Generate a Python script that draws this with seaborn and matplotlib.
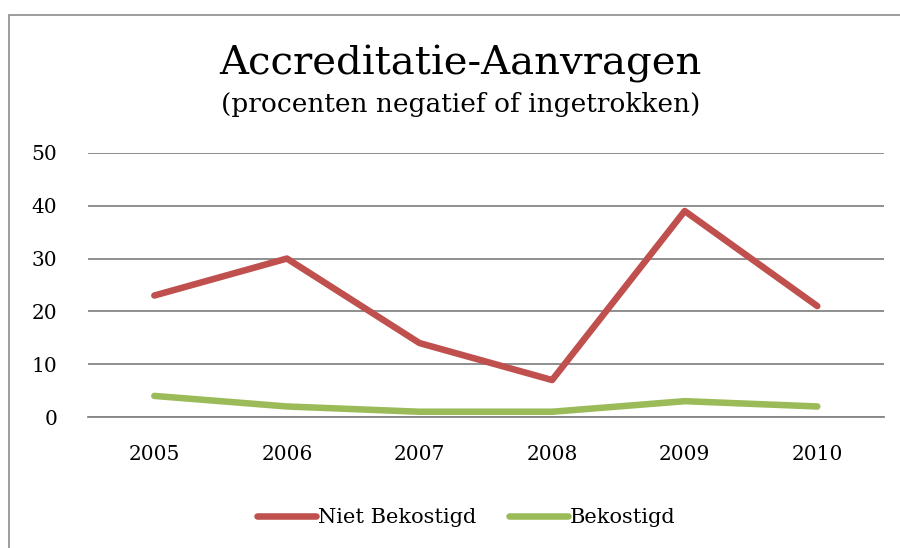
import matplotlib
matplotlib.use('Agg')
import matplotlib.pyplot as plt
import pandas as pd
import seaborn as sns
from matplotlib.patches import Rectangle

years = [2005, 2006, 2007, 2008, 2009, 2010]
niet_bekostigd = [23, 30, 14, 7, 39, 21]
bekostigd = [4, 2, 1, 1, 3, 2]
series_names = ['Niet Bekostigd', 'Bekostigd']
colors = ['#C0504D', '#9BBB59']

df = pd.DataFrame({
    'jaar': years * 2,
    'waarde': niet_bekostigd + bekostigd,
    'reeks': [series_names[0]] * len(years) + [series_names[1]] * len(years),
})

sns.set_style('white')
plt.rcParams['font.family'] = ['DejaVu Serif']
plt.rcParams['text.color'] = 'black'
plt.rcParams['xtick.color'] = 'black'
plt.rcParams['ytick.color'] = 'black'

fig = plt.figure(figsize=(9, 5.48), dpi=100)
ax = fig.add_axes([0.0978, 0.239, 0.884, 0.482])

sns.lineplot(data=df, x='jaar', y='waarde', hue='reeks', palette=colors,
             linewidth=4.7, ax=ax, legend=False, solid_capstyle='round')

ax.set_xlim(years[0] - 0.5, years[-1] + 0.5)
ax.set_ylim(0, 50)
ax.set_yticks(range(0, 51, 10))
ax.set_xticks(years)
ax.set_xticklabels([str(y) for y in years])
ax.yaxis.grid(True, color='#868686', linewidth=1.3)
ax.set_axisbelow(True)
for s in ['top', 'right', 'left']:
    ax.spines[s].set_visible(False)
ax.spines['bottom'].set_color('#868686')
ax.spines['bottom'].set_linewidth(1.3)
ax.tick_params(axis='both', length=0, labelsize=14.5)
ax.tick_params(axis='y', pad=22)
ax.tick_params(axis='x', pad=20)
ax.set_xlabel('')
ax.set_ylabel('')

# titel
fig.text(0.512, 0.884, 'Accreditatie-Aanvragen', ha='center', va='center', fontsize=29)
fig.text(0.512, 0.81, '(procenten negatief of ingetrokken)', ha='center', va='center', fontsize=19)

# legenda
handles = [plt.Line2D([0], [0], color=c, linewidth=4.7, solid_capstyle='round') for c in colors]
fig.legend(handles, series_names, loc='center', bbox_to_anchor=(0.518, 0.055), ncol=2,
           frameon=False, fontsize=15, handlelength=2.8, handletextpad=0.1, columnspacing=1.6)

# kader
fig.patches.append(Rectangle((9 / 900, -0.1), 1.2, 1.1 - 15 / 548, transform=fig.transFigure,
                             fill=False, edgecolor='#8c8c8c', linewidth=1.2))

fig.savefig('out.png', dpi=100)
